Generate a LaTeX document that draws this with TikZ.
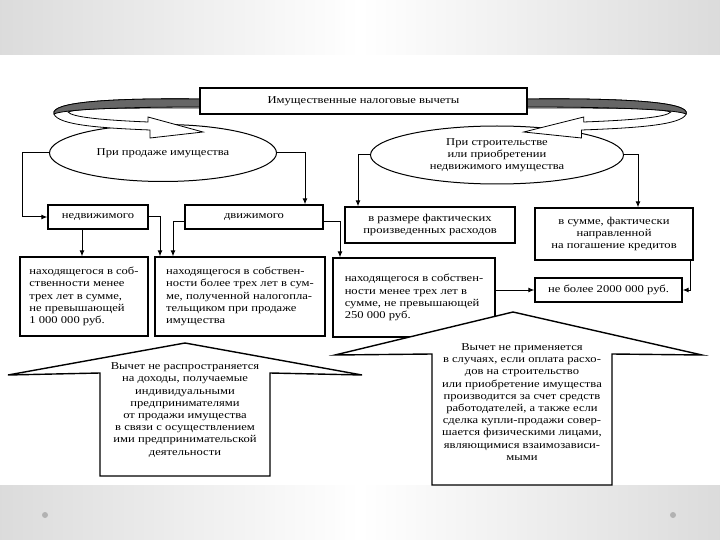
\documentclass[tikz,border=0pt]{standalone}
\usepackage{fontspec}
\setmainfont{Liberation Serif}[FakeStretch=1.2]
\usetikzlibrary{arrows.meta,shapes.geometric}

\newcommand\ribbon{%
\filldraw[fill=white, line width=0.8pt] (0,0) .. controls (-90,-1) and (-150,3) .. (-146,15)
  .. controls (-142,26) and (-100,29) .. (-50,31) -- (-50,39) -- (3,33) -- (-52,18) -- (-52,23)
  .. controls (-100,21) and (-128,18) .. (-132,13) .. controls (-120,9) and (-80,9) .. (0,9) -- cycle;
\filldraw[fill=black!60, line width=0.8pt] (0,0) .. controls (-90,-1) and (-150,3) .. (-146,15)
  .. controls (-138,11) and (-90,8) .. (0,8) -- cycle;}

\tikzset{
  txt/.style={font=\fontsize{10.5}{12.2}\selectfont},
  box/.style={txt, draw, line width=1.3pt, fill=white, inner sep=2pt, align=center},
  lbox/.style={box, align=left},
  oval/.style={txt, draw, ellipse, line width=1pt, fill=white, inner sep=0pt, align=center},
  arr/.style={line width=1pt, -{Latex[length=6pt,width=5pt]}},
  bigarrow/.style={draw, line width=1.4pt, fill=white, line join=miter},
  note/.style={txt, align=center, inner sep=0pt}
}

\begin{document}
\begin{tikzpicture}[x=1pt,y=-1pt]
\useasboundingbox (0,0) rectangle (720,540);
\shade[left color=gray!28, right color=gray!28, middle color=white] (0,0) rectangle (720,55);
\shade[left color=gray!28, right color=gray!28, middle color=white] (0,485) rectangle (720,540);
\fill[gray!60] (45,515) circle (3);
\fill[gray!60] (673,515) circle (3);

\node[oval, minimum width=227, minimum height=57] (sale) at (163,153) {При продаже имущества};
\node[oval, minimum width=253, minimum height=58] (build) at (497,155) {При строительстве\\или приобретении\\недвижимого имущества};

\begin{scope}[shift={(200,99)}]
\ribbon
\end{scope}
\begin{scope}[shift={(527,99)}, xscale=-1.09]
\ribbon
\end{scope}

\node[box, minimum width=327, minimum height=26] (title) at (363.5,101) {Имущественные налоговые вычеты};

\node[box, minimum width=100, minimum height=24] (realty) at (98,217) {недвижимого};
\node[box, minimum width=138, minimum height=24] (movable) at (254,217) {движимого};
\node[lbox, minimum width=128, minimum height=79] (lessthree) at (84,296.5) {находящегося в соб-\\ственности менее\\трех лет в сумме,\\не превышающей\\1 000 000 руб.};
\node[lbox, minimum width=170, minimum height=79] (morethree) at (240,296.5) {находящегося в собствен-\\ности более трех лет в сум-\\ме, полученной налогопла-\\тельщиком при продаже\\имущества};
\node[lbox, minimum width=162, minimum height=79] (realtylt) at (414,297.5) {находящегося в собствен-\\ности менее трех лет в\\сумме, не превышающей\\250 000 руб.};
\node[box, minimum width=170, minimum height=36] (actual) at (430,225) {в размере фактических\\произведенных расходов};
\node[box, minimum width=158, minimum height=52] (credit) at (614,234) {в сумме, фактически\\направленной\\на погашение кредитов};
\node[box, minimum width=147, minimum height=24] (limit) at (608.5,290) {не более 2000 000 руб.};

\draw[arr] (sale.west) -| ([xshift=-25pt]realty.west) -- (realty.west);
\draw[arr] (sale.east) -| ([xshift=51pt]movable.north);
\draw[arr] ([xshift=-16pt]realty.south) -- ([xshift=-2pt]lessthree.north);
\draw[arr] (realty.east) -| ([xshift=-80pt]morethree.north);
\draw[arr] ([yshift=-5pt]movable.west) -| ([xshift=-67pt]morethree.north);
\draw[arr] ([yshift=-5pt]movable.east) -| ([xshift=-74pt]realtylt.north);
\draw[arr] (build.west) -| ([xshift=-72pt]actual.north);
\draw[arr] (build.east) -| ([xshift=24pt]credit.north);
\draw[arr] (realtylt.east |- limit.west) -- (limit.west);
\draw[arr] ([xshift=-3pt]credit.south east) |- (limit.east);

\draw[bigarrow] (100,476) -- (100,373) -- (8,375) -- (185,343) -- (362,375) -- (270,373) -- (270,476) -- cycle;
\node[note] (noteleft) at (185,410) {Вычет не распространяется\\на доходы, получаемые\\индивидуальными\\предпринимателями\\от продажи имущества\\в связи с осуществлением\\ими предпринимательской\\деятельности};
\draw[bigarrow] (432,485) -- (432,354) -- (335,355) -- (513,312) -- (702,355) -- (612,354) -- (612,485) -- cycle;
\node[note] (noteright) at (522,402) {Вычет не применяется\\в случаях, если оплата расхо-\\дов на строительство\\или приобретение имущества\\производится за счет средств\\работодателей, а также если\\сделка купли-продажи совер-\\шается физическими лицами,\\являющимися взаимозависи-\\мыми};
\end{tikzpicture}
\end{document}
